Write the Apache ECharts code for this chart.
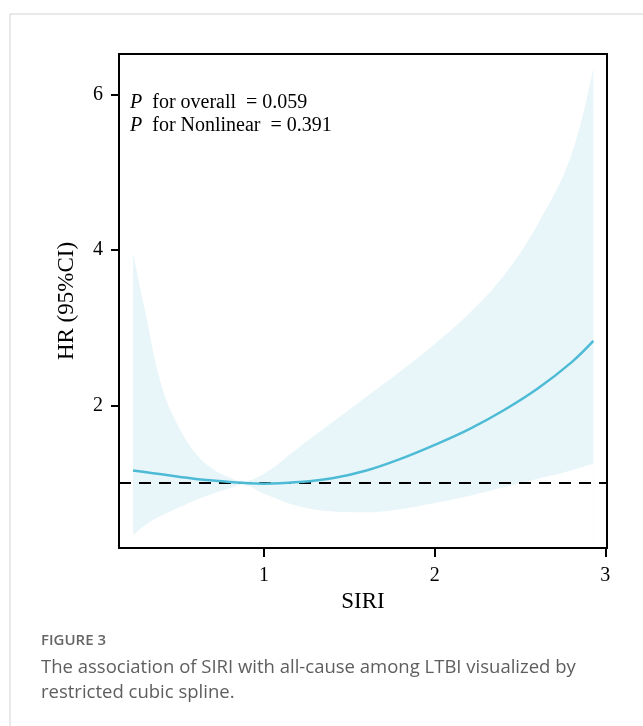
<!DOCTYPE html>
<html>
<head>
<meta charset="utf-8">
<script src="https://cdn.jsdelivr.net/npm/echarts@6/dist/echarts.min.js"></script>
<style>
html, body { margin: 0; padding: 0; background: #fff; }
#chart { width: 643px; height: 726px; }
</style>
</head>
<body>
<div id="chart"></div>
<script>
// values
var siri  = [0.232, 0.3, 0.4, 0.5, 0.6, 0.7, 0.8, 0.87, 1.0, 1.2, 1.4, 1.6, 1.8, 2.0, 2.2, 2.4, 2.6, 2.8, 2.93];
var hr    = [1.16, 1.14, 1.11, 1.08, 1.05, 1.03, 1.01, 1.0, 0.99, 1.01, 1.06, 1.16, 1.31, 1.49, 1.69, 1.93, 2.21, 2.55, 2.83];
var lower = [0.32, 0.45, 0.58, 0.68, 0.78, 0.86, 0.93, 0.98, 0.86, 0.70, 0.63, 0.62, 0.66, 0.74, 0.83, 0.94, 1.05, 1.16, 1.25];
var upper = [3.97, 3.25, 2.25, 1.72, 1.38, 1.18, 1.07, 1.02, 1.12, 1.45, 1.78, 2.11, 2.44, 2.79, 3.18, 3.66, 4.32, 5.22, 6.35];
var xTicks = [1, 2, 3];
var yTicks = [2, 4, 6];
var refLine = 1;

var pOverall = '0.059';
var pNonlinear = '0.391';

var chart = echarts.init(document.getElementById('chart'));

function pairs(ys) {
  return siri.map(function (x, i) { return [x, ys[i]]; });
}

var serif = 'Liberation Serif';

var option = {
  backgroundColor: '#fff',
  animation: false,
  grid: {
    left: 119, right: 36, top: 54, bottom: 178,
    show: true, borderColor: '#000', borderWidth: 2
  },
  xAxis: {
    type: 'value', min: 0.15, max: 3.01, z: 10,
    name: 'SIRI', nameLocation: 'middle', nameGap: 42,
    nameTextStyle: { fontFamily: serif, fontSize: 23, color: '#000' },
    splitLine: { show: false },
    axisLine: { lineStyle: { color: '#000', width: 2 } },
    axisTick: { customValues: xTicks, length: 9, lineStyle: { color: '#000', width: 2 } },
    axisLabel: { customValues: xTicks, margin: 18, fontFamily: serif, fontSize: 20, color: '#000' }
  },
  yAxis: {
    type: 'value', min: 0.16, max: 6.53, z: 10,
    name: 'HR (95%CI)', nameLocation: 'middle', nameGap: 41,
    nameTextStyle: { fontFamily: serif, fontSize: 23, color: '#000' },
    splitLine: { show: false },
    axisLine: { lineStyle: { color: '#000', width: 2 } },
    axisTick: { customValues: yTicks, length: 8, lineStyle: { color: '#000', width: 2 } },
    axisLabel: { customValues: yTicks, margin: 16, fontFamily: serif, fontSize: 20, color: '#000' }
  },
  series: [
    {
      // upper bound, filled down to the bottom of the plot
      type: 'line', data: pairs(upper), smooth: 0.4, z: 1,
      showSymbol: false, silent: true,
      lineStyle: { opacity: 0 },
      areaStyle: { color: '#E9F6F9', opacity: 1, origin: 'start' }
    },
    {
      // lower bound, white below it so only the band is left
      type: 'line', data: pairs(lower), smooth: 0.4, z: 2,
      showSymbol: false, silent: true,
      lineStyle: { opacity: 0 },
      areaStyle: { color: '#fff', opacity: 1, origin: 'start' }
    },
    {
      type: 'line', data: pairs(hr), smooth: 0.4, showSymbol: false, z: 5,
      lineStyle: { color: '#4DBBD5', width: 2.5 },
      markLine: {
        silent: true, symbol: ['none', 'none'],
        label: { show: false },
        lineStyle: { color: '#000', type: [12, 8], width: 2.2 },
        data: [{ yAxis: refLine }]
      }
    }
  ],
  graphic: [
    { type: 'line', shape: { x1: 10, y1: 14, x2: 643, y2: 14 }, style: { stroke: '#d3d3d3', lineWidth: 1 } },
    { type: 'line', shape: { x1: 10, y1: 14, x2: 10, y2: 726 }, style: { stroke: '#d3d3d3', lineWidth: 1 } },
    {
      type: 'text', left: 130, top: 91,
      style: {
        text: '{i|P}  for overall  = ' + pOverall + '\n{i|P}  for Nonlinear  = ' + pNonlinear,
        font: '20px "Liberation Serif"', fill: '#000', lineHeight: 23,
        rich: { i: { fontStyle: 'italic', fontFamily: serif, fontSize: 20, lineHeight: 23 } }
      }
    },
    {
      type: 'text', left: 41, top: 633,
      style: { text: 'FIGURE 3', font: '600 15px "Open Sans"', fill: '#666' }
    },
    {
      type: 'text', left: 41, top: 655,
      style: {
        text: 'The association of SIRI with all-cause among LTBI visualized by\nrestricted cubic spline.',
        font: '18.5px "Open Sans"', fill: '#5e5e5e', lineHeight: 25
      }
    }
  ]
};

chart.setOption(option);
</script>
</body>
</html>
